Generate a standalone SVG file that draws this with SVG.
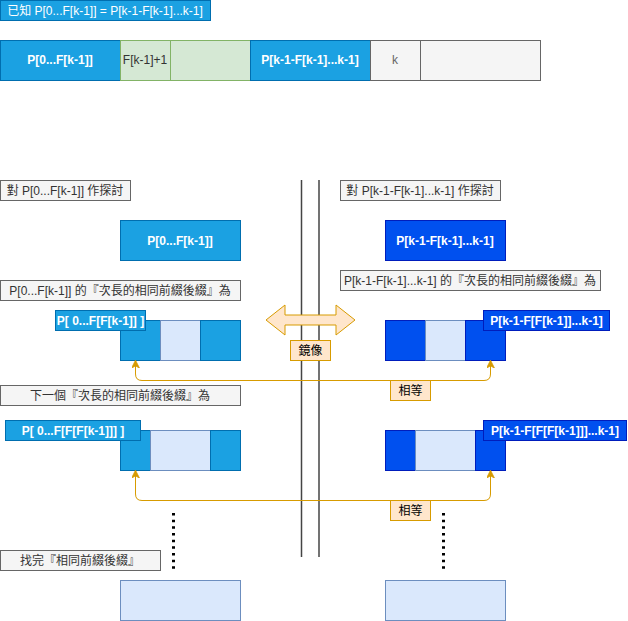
<svg xmlns="http://www.w3.org/2000/svg" width="628" height="621" viewBox="0 0 628 621">
<style>
text{font-family:"Liberation Sans","Noto Sans CJK TC",sans-serif;font-size:12px;text-anchor:middle;dominant-baseline:central}
.b rect,rect.b{fill:#1ba1e2;stroke:#006eaf}
.d{fill:#0050ef;stroke:#001dbc}
.l{fill:#dae8fc;stroke:#6c8ebf}
.g{fill:#d5e8d4;stroke:#82b366}
.gr{fill:#f5f5f5;stroke:#666666}
.o{fill:#ffe6cc;stroke:#d79b00}
.wt{fill:#ffffff;font-weight:bold}
.gt{fill:#333333}
.bt{fill:#000000}
.conn{fill:none;stroke:#d79b00;stroke-width:1}
.vl{stroke:#444444;stroke-width:1.5}
.dot{stroke:#000000;stroke-width:3;stroke-dasharray:2.5 4.17}
</style>
<defs>
<marker id="ah" viewBox="0 0 10 10" refX="9" refY="5" markerWidth="8" markerHeight="8" markerUnits="userSpaceOnUse" orient="auto-start-reverse">
<path d="M0,0 L10,5 L0,10 L3,5 Z" fill="#d79b00" stroke="#d79b00"/>
</marker>
</defs>

<g id="known"><rect class="b" x="0.5" y="0.5" width="210" height="20"/><text class="wt" x="105" y="11" style="font-weight:normal">已知 P[0...F[k-1]] = P[k-1-F[k-1]...k-1]</text></g>

<g id="top-row">
<g id="t1"><rect class="b" x="0.5" y="40.5" width="120" height="40"/><text class="wt" x="60" y="60">P[0...F[k-1]]</text></g>
<g id="t2"><rect class="g" x="120.5" y="40.5" width="50" height="40"/><text class="gt" x="145" y="60">F[k-1]+1</text></g>
<g id="t3"><rect class="g" x="170.5" y="40.5" width="80" height="40"/></g>
<g id="t4"><rect class="b" x="250.5" y="40.5" width="120" height="40"/><text class="wt" x="310" y="60">P[k-1-F[k-1]...k-1]</text></g>
<g id="t5"><rect class="gr" x="370.5" y="40.5" width="50" height="40"/><text x="395" y="60" fill="#666666">k</text></g>
<g id="t6"><rect class="gr" x="420.5" y="40.5" width="120" height="40"/></g>
</g>

<g id="divider">
<line class="vl" x1="301.5" y1="180" x2="301.5" y2="557"/>
<line class="vl" x1="319" y1="180" x2="319" y2="557"/>
</g>

<g id="l-explore"><rect class="gr" x="0.5" y="180.5" width="130" height="20"/><text class="gt" x="65" y="190.5">對 P[0...F[k-1]] 作探討</text></g>
<g id="r-explore"><rect class="gr" x="340.5" y="180.5" width="160" height="20"/><text class="gt" x="420" y="190.5">對 P[k-1-F[k-1]...k-1] 作探討</text></g>

<g id="l-main"><rect class="b" x="120.5" y="220.5" width="120" height="40"/><text class="wt" x="180" y="240.5">P[0...F[k-1]]</text></g>
<g id="r-main"><rect class="d" x="385.5" y="220.5" width="120" height="40"/><text class="wt" x="445" y="240.5">P[k-1-F[k-1]...k-1]</text></g>

<g id="l-sub-label"><rect class="gr" x="0.5" y="280.5" width="240" height="20"/><text class="gt" x="120" y="290.5">P[0...F[k-1]] 的『次長的相同前綴後綴』為</text></g>
<g id="r-sub-label"><rect class="gr" x="340.5" y="270.5" width="260" height="20"/><text class="gt" x="470" y="280.5">P[k-1-F[k-1]...k-1] 的『次長的相同前綴後綴』為</text></g>

<g id="l-row1">
<rect class="b" x="120.5" y="320.5" width="40" height="40"/>
<rect class="l" x="160.5" y="320.5" width="40" height="40"/>
<rect class="b" x="200.5" y="320.5" width="40" height="40"/>
</g>
<g id="l-row1-label"><rect class="b" x="55.5" y="310.5" width="90" height="20"/><text class="wt" x="100.5" y="320.5">P[ 0...F[F[k-1]] ]</text></g>

<g id="r-row1">
<rect class="d" x="385.5" y="320.5" width="40" height="40"/>
<rect class="l" x="425.5" y="320.5" width="40" height="40"/>
<rect class="d" x="465.5" y="320.5" width="40" height="40"/>
</g>
<g id="r-row1-label"><rect class="d" x="483.5" y="310.5" width="126" height="20"/><text class="wt" x="546.5" y="320.5">P[k-1-F[F[k-1]]...k-1]</text></g>

<g id="mirror-arrow"><polygon class="o" points="266,320 285,305 285,315 336,315 336,305 355,320 336,335 336,325 285,325 285,335"/></g>
<g id="mirror"><rect class="o" x="290.5" y="340.5" width="40" height="20"/><text class="bt" x="310.5" y="350.5">鏡像</text></g>

<g id="l-next-label"><rect class="gr" x="0.5" y="385.5" width="240" height="20"/><text class="gt" x="120" y="395.5">下一個『次長的相同前綴後綴』為</text></g>

<g id="l-row2">
<rect class="b" x="120.5" y="430.5" width="30" height="40"/>
<rect class="l" x="150.5" y="430.5" width="60" height="40"/>
<rect class="b" x="210.5" y="430.5" width="30" height="40"/>
</g>
<g id="l-row2-label"><rect class="b" x="5.5" y="420.5" width="135" height="20"/><text class="wt" x="73" y="430.5">P[ 0...F[F[F[k-1]]] ]</text></g>

<g id="r-row2">
<rect class="d" x="385.5" y="430.5" width="30" height="40"/>
<rect class="l" x="415.5" y="430.5" width="60" height="40"/>
<rect class="d" x="475.5" y="430.5" width="30" height="40"/>
</g>
<g id="r-row2-label"><rect class="d" x="483.5" y="420.5" width="143" height="20"/><text class="wt" x="555" y="430.5">P[k-1-F[F[F[k-1]]]...k-1]</text></g>

<g id="connectors">
<path class="conn" marker-start="url(#ah)" marker-end="url(#ah)" d="M135.5,361 V374 Q135.5,380.5 142,380.5 H484 Q490.5,380.5 490.5,374 V361"/>
<path class="conn" marker-start="url(#ah)" marker-end="url(#ah)" d="M135.5,471 V494 Q135.5,500.5 142,500.5 H484 Q490.5,500.5 490.5,494 V471"/>
<line class="dot" x1="173.5" y1="513" x2="173.5" y2="570"/>
<line class="dot" x1="443.5" y1="513" x2="443.5" y2="570"/>
</g>

<g id="eq1"><rect class="o" x="390.5" y="380.5" width="40" height="20"/><text class="bt" x="410.5" y="390.5">相等</text></g>
<g id="eq2"><rect class="o" x="390.5" y="500.5" width="40" height="20"/><text class="bt" x="410.5" y="510.5">相等</text></g>

<g id="found"><rect class="gr" x="0.5" y="550.5" width="160" height="20"/><text class="gt" x="80" y="560.5">找完『相同前綴後綴』</text></g>

<g id="l-final"><rect class="l" x="120.5" y="580.5" width="120" height="40"/></g>
<g id="r-final"><rect class="l" x="385.5" y="580.5" width="120" height="40"/></g>
</svg>
